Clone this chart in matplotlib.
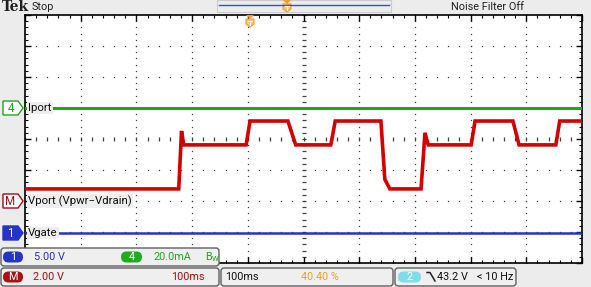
import numpy as np
import matplotlib
matplotlib.use("Agg")
import matplotlib.pyplot as plt
from matplotlib.patches import FancyBboxPatch, Polygon, Rectangle

# time in ms (100 ms/div), trace levels in divisions from screen centre
red_t = [0, 276, 279, 281, 285, 397, 404, 472, 486, 549, 557, 639, 646, 655,
         711, 715, 718, 724, 801, 808, 876, 887, 953, 960, 1000]
red_div = [-1.61, -1.61, -0.5, 0.26, -0.19, -0.19, 0.58, 0.58, -0.19, -0.19,
           0.58, 0.58, -1.3, -1.61, -1.61, -0.6, 0.2, -0.19, -0.19, 0.58,
           0.58, -0.19, -0.19, 0.58, 0.58]
green_t = [0, 1000]
green_div = [1.0, 1.0]
blue_t = [0, 1000]
blue_div = [-3.02, -3.02]

W, H = 591, 287
GL, GR, GT, GB = 25, 582, 15, 263

RED = "#d40000"
DRED = "#a01010"
GREEN = "#1fa51f"
BLUE = "#2433c8"
ORANGE = "#f0a020"
CYAN = "#7fdcea"
PANEL = "#efefef"
EDGE = "#606060"
FS = 7.8

plt.rcParams['font.family'] = ['Roboto', 'DejaVu Sans']

fig = plt.figure(figsize=(W / 100, H / 100), dpi=100, facecolor="#ececec")

ax = fig.add_axes([GL / W, (H - GB) / H, (GR - GL) / W, (GB - GT) / H])
ax.set_facecolor("white")
ax.set_xlim(0, 1000)
ax.set_ylim(-4, 4)
ax.set_xticks(np.arange(0, 1001, 100))
ax.set_xticks(np.arange(0, 1001, 20), minor=True)
ax.set_yticks(np.arange(-4, 5, 1))
ax.set_yticks(np.arange(-4, 4.01, 0.2), minor=True)
ax.tick_params(which="both", direction="in", top=True, right=True,
               labelbottom=False, labelleft=False, color="black")
ax.tick_params(which="major", length=4, width=1)
ax.tick_params(which="minor", length=2, width=0.8)
for s in ax.spines.values():
    s.set_color("black")
    s.set_linewidth(1.2)

# graticule dots
ys = np.arange(-4, 4.01, 0.2)
xs = np.arange(0, 1001, 20)
for gx in range(100, 1000, 100):
    if gx == 500:
        continue
    ax.plot(np.full(len(ys), gx), ys, ls="none", marker="s", ms=0.9,
            mec="none", mfc="#404040", zorder=1)
for gy in range(-3, 4):
    if gy == 0:
        continue
    ax.plot(xs, np.full(len(xs), gy), ls="none", marker="s", ms=0.9,
            mec="none", mfc="#404040", zorder=1)
# centre cross-hair ticks
ax.plot(xs, np.zeros(len(xs)), ls="none", marker="|", ms=3, mew=0.9,
        color="#404040", zorder=1)
ax.plot(np.full(len(ys), 500), ys, ls="none", marker="_", ms=3.5, mew=0.9,
        color="#404040", zorder=1)

# traces
ax.plot(green_t, green_div, color=GREEN, lw=2.2, zorder=3)
ax.plot(blue_t, blue_div, color=BLUE, lw=1.8, zorder=3)
ax.plot(red_t, red_div, color=RED, lw=2.6, zorder=4, solid_joinstyle="miter")

# overlay in pixel space for the scope decorations
ov = fig.add_axes([0, 0, 1, 1], zorder=10)
ov.set_xlim(0, W)
ov.set_ylim(H, 0)
ov.axis("off")
ov.patch.set_alpha(0)

# top bar
ov.text(2, 7, "Tek", family="DejaVu Serif", weight="bold", fontsize=10,
        va="center", ha="left", color="#202020")
ov.text(32, 7, "Stop", fontsize=FS, va="center", ha="left", color="#202020")
ov.text(487, 7, "Noise Filter Off", fontsize=FS, va="center", ha="center",
        color="#202020")
ov.add_patch(Rectangle((217, 0), 174, 12, fc="none", ec="#cccccc", lw=0.8))
ov.plot([219, 389], [5, 5], color="#3a4ae0", lw=1)


def trig_marker(x, y):
    ov.add_patch(Polygon([[x - 4, y], [x + 4, y], [x, y + 4]], closed=True,
                         fc=ORANGE, ec="none"))
    ov.add_patch(Polygon([[x - 4, y + 4], [x + 4, y + 4], [x + 4, y + 9],
                          [x, y + 12], [x - 4, y + 9]], closed=True,
                         fc="#f7c080", ec=ORANGE, lw=0.8))
    ov.plot([x - 2, x + 2], [y + 6, y + 6], color="white", lw=0.8)
    ov.plot([x, x], [y + 6, y + 10], color="white", lw=0.8)


trig_marker(287, 0)
trig_marker(250, 15)


# channel markers on the left
def ch_marker(y, label, fc, ec, tc):
    ov.add_patch(Polygon([[3, y - 7], [18, y - 7], [23, y], [18, y + 7],
                          [3, y + 7]], closed=True, fc=fc, ec=ec, lw=1))
    ov.text(10.5, y + 0.5, label, fontsize=FS + 0.5, ha="center",
            va="center", color=tc)


def ch_label(y, text):
    ov.text(28, y, text, fontsize=FS + 0.4, ha="left", va="center",
            color="#101010",
            bbox=dict(boxstyle="square,pad=0.1", fc="#eeeeee", ec="none"))


ch_marker(108, "4", "white", GREEN, GREEN)
ch_label(108, "Iport")
ch_marker(201, "M", "white", DRED, DRED)
ch_label(201, "Vport (Vpwr\u2212Vdrain)")
ch_marker(233, "1", BLUE, BLUE, "white")
ch_label(233, "Vgate")


# bottom readout panels
def panel(x0, x1, y0, y1):
    ov.add_patch(FancyBboxPatch((x0, y0), x1 - x0, y1 - y0,
                                boxstyle="round,pad=0,rounding_size=3",
                                fc=PANEL, ec=EDGE, lw=1, zorder=5))


def pill(x0, x1, yc, label, fc):
    ov.add_patch(FancyBboxPatch((x0, yc - 5.5), x1 - x0, 11,
                                boxstyle="round,pad=0,rounding_size=5.5",
                                fc=fc, ec="none", zorder=6))
    ov.text((x0 + x1) / 2, yc + 0.5, label, fontsize=FS, ha="center",
            va="center", color="white", zorder=7)


def txt(x, y, s, c, ha="left"):
    ov.text(x, y, s, fontsize=FS, ha=ha, va="center", color=c, zorder=7)


panel(1, 219, 248, 266)
pill(3, 23, 257, "1", BLUE)
txt(34, 257, "5.00 V", BLUE)
pill(121, 142, 257, "4", "#22aa22")
txt(153, 257, "20.0mA", GREEN)
txt(205, 257, "B$_{\\mathregular{W}}$", GREEN)

panel(1, 219, 268, 286)
pill(3, 23, 277, "M", "#a51515")
txt(33, 277, "2.00 V", DRED)
txt(205, 277, "100ms", DRED, ha="right")

panel(221, 393, 268, 286)
txt(225, 277, "100ms", "#101010")
txt(339, 277, "40.40 %", ORANGE, ha="right")

panel(395, 516, 268, 286)
pill(398, 421, 277, "2", CYAN)
ov.plot([427, 430, 435], [272.5, 272.5, 281], color="#202020", lw=1.1,
        zorder=7)
txt(437, 277, "43.2 V", "#101010")
txt(513, 277, "< 10 Hz", "#101010", ha="right")

fig.savefig("out.png", dpi=100, facecolor=fig.get_facecolor())
